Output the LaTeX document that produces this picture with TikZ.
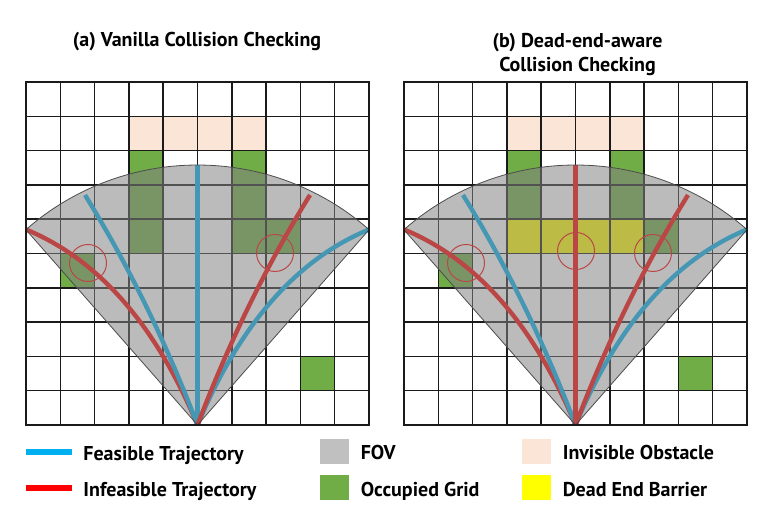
\documentclass[tikz,border=0pt]{standalone}
\usepackage{fontspec}
\setmainfont{PT Sans}
\usepackage{xcolor}
\usetikzlibrary{positioning}
\definecolor{trajBlue}{HTML}{00B0F0}
\definecolor{trajRed}{HTML}{FF0000}
\definecolor{occGreen}{HTML}{70AD47}
\definecolor{invisPink}{HTML}{FBE5D6}
\definecolor{barYellow}{HTML}{FFFF00}
\definecolor{fovGray}{HTML}{C0C0C0}
\definecolor{fovShade}{RGB}{130,130,130}
\definecolor{gridInk}{HTML}{1A1A1A}

\begin{document}
\begin{tikzpicture}[
  x=0.5pt, y=-0.5pt,
  font=\fontsize{10}{12}\selectfont\bfseries,
  ttl/.style={font=\fontsize{10}{12.25}\selectfont\bfseries, align=center, inner sep=0pt},
  invis/.style={fill=invisPink},
  occ/.style={fill=occGreen},
  barrier/.style={fill=barYellow},
  gridline/.style={draw=gridInk, line width=0.75pt},
  border/.style={draw=gridInk, line width=1.4pt},
  feas/.style={draw=trajBlue, line width=2.2pt},
  infeas/.style={draw=trajRed, line width=2.2pt},
  probe/.style={draw=trajRed, line width=0.5pt},
  fov/.style={fill=fovShade, fill opacity=0.54, draw=black!70, line width=0.4pt},
  swatch/.style={minimum width=14.5pt, minimum height=12.5pt, inner sep=0pt},
  legtxt/.style={inner sep=0pt, text height=8.5pt, text depth=0pt}
]
\def\cs{34.3}
\useasboundingbox (0,0) rectangle (782,522);

% ---- titles ----
\node[ttl] (ttlA) at (197,42) {(a) Vanilla Collision Checking};
\node[ttl] (ttlB) at (577.5,54.5) {(b) Dead-end-aware\\Collision Checking};

% ---- cells that differ between the panels ----
\begin{scope}[shift={(26,82)}]
  \foreach \col in {3,6} \fill[occ] (\col*\cs,4*\cs) rectangle ++(\cs,\cs);
\end{scope}
\begin{scope}[shift={(404,82)}]
  \fill[barrier] (3*\cs,4*\cs) rectangle ++(4*\cs,\cs);
\end{scope}

% ---- both panels ----
\foreach \ox/\mid in {26/feas,404/infeas}{
\begin{scope}[shift={(\ox,82)}]
  \foreach \col in {3,...,6} \fill[invis] (\col*\cs,\cs) rectangle ++(\cs,\cs);
  \foreach \col/\row in {3/2,6/2,3/3,6/3,7/4,1/5,8/8}
    \fill[occ] (\col*\cs,\row*\cs) rectangle ++(\cs,\cs);
  \foreach \i in {1,...,9}{
    \draw[gridline] (\i*\cs,0) -- (\i*\cs,343);
    \draw[gridline] (0,\i*\cs) -- (343,\i*\cs);
  }
  % trajectories
  \draw[infeas] (171.5,343) .. controls (129.4,242.5) and (72.3,177.3) .. (0,147.5);
  \draw[feas] (171.5,343) .. controls (139.8,259.7) and (102.3,183) .. (59,113);
  \draw[\mid] (171.5,343) -- (171.5,83.5);
  \draw[feas] (171.5,343) .. controls (213.6,242.5) and (270.7,177.3) .. (343,147.5);
  \draw[infeas] (171.5,343) .. controls (203.2,259.7) and (240.7,183) .. (284,113);
  % checked spots
  \draw[probe] (62,181) circle[radius=9.25pt];
  \draw[probe] (249,171) circle[radius=9.25pt];
  \ifnum\ox>100 \draw[probe] (172,169) circle[radius=9.25pt]; \fi
  % field of view
  \path[fov] (171.5,343) -- plot[domain=131.3:48.7, samples=50]
    ({171.5+260*cos(\x)},{343-260*sin(\x)}) -- cycle;
  \draw[border] (0,0) rectangle (343,343);
\end{scope}
}

% ---- legend ----
\coordinate (kFeasA) at (26,452);
\coordinate (kFeasB) at (72,452);
\draw[trajBlue, line width=3.2pt] (kFeasA) -- (kFeasB);
\node[legtxt, right=5.5pt of kFeasB] (tFeas) {Feasible Trajectory};
\coordinate (kInfA) at (26,488);
\coordinate (kInfB) at (72,488);
\draw[trajRed, line width=3.2pt] (kInfA) -- (kInfB);
\node[legtxt, right=5.5pt of kInfB] (tInf) {Infeasible Trajectory};

\node[swatch, fill=fovGray] (kFov) at (334.5,451.5) {};
\node[legtxt, right=5.5pt of kFov] (tFov) {FOV};
\node[swatch, fill=occGreen] (kOcc) at (334.5,488) {};
\node[legtxt, right=5.5pt of kOcc] (tOcc) {Occupied Grid};
\node[swatch, fill=invisPink] (kInv) at (536.5,451.5) {};
\node[legtxt, right=5.5pt of kInv] (tInv) {Invisible Obstacle};
\node[swatch, fill=barYellow] (kBar) at (536.5,488) {};
\node[legtxt, right=5.5pt of kBar] (tBar) {Dead End Barrier};
\end{tikzpicture}
\end{document}
